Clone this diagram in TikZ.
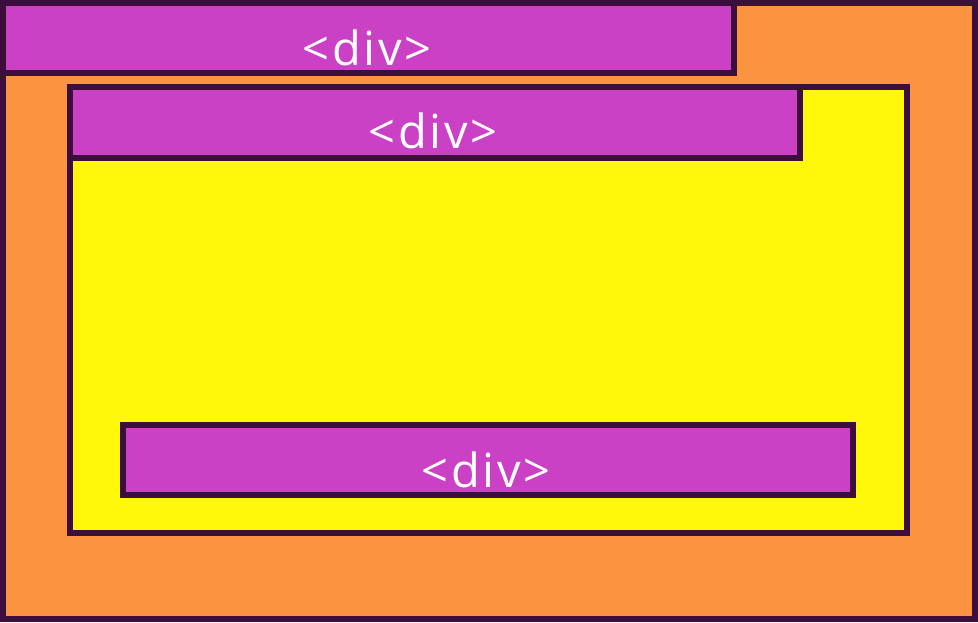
\documentclass[tikz,border=0pt]{standalone}
\usepackage{fontspec}
\newfontfamily\divfont[LetterSpace=6]{Open Sans}
\definecolor{bordc}{RGB}{60,14,60}
\definecolor{orangec}{RGB}{252,147,64}
\definecolor{purplec}{RGB}{203,65,198}
\definecolor{yellowc}{RGB}{255,247,10}
\tikzset{
  box/.style={draw=bordc, line width=6pt, line join=miter},
  divlabel/.style={anchor=base, text=white, font=\divfont\fontsize{47pt}{47pt}\selectfont, inner sep=0pt}
}
\begin{document}
\begin{tikzpicture}[x=1pt,y=-1pt]
\useasboundingbox (0,0) rectangle (978,622);
\path[box, fill=orangec] (3,3) rectangle (975,619);
\path[box, fill=purplec] (3,3) rectangle (734,73);
\node[divlabel] (d1) at (367,65) {<div>};
\path[box, fill=yellowc] (70,87) rectangle (907,533);
\path[box, fill=purplec] (70,87) rectangle (800,158);
\node[divlabel] (d2) at (433,148) {<div>};
\path[box, fill=purplec] (123,425) rectangle (853,495);
\node[divlabel] (d3) at (486,487) {<div>};
\end{tikzpicture}
\end{document}
